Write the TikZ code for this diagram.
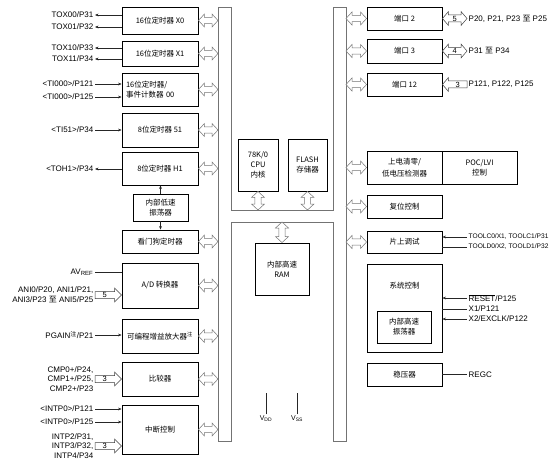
\documentclass[tikz,border=0pt]{standalone}
\usepackage{fontspec}
\setmainfont{Liberation Sans}
\newfontfamily\cjk{Noto Sans CJK SC}
\usetikzlibrary{arrows.meta,calc}

% hollow bus arrows (start, end)
\newcommand{\hbidi}[2]{%
  \draw[busarr] let \p1=(#1), \p2=(#2) in
    (\x1,\y1) -- ({\x1+6pt},{\y1+6.5pt}) -- ({\x1+6pt},{\y1+3.2pt})
    -- ({\x2-6pt},{\y1+3.2pt}) -- ({\x2-6pt},{\y1+6.5pt}) -- (\x2,\y1)
    -- ({\x2-6pt},{\y1-6.5pt}) -- ({\x2-6pt},{\y1-3.2pt})
    -- ({\x1+6pt},{\y1-3.2pt}) -- ({\x1+6pt},{\y1-6.5pt}) -- cycle;}
\newcommand{\vbidi}[2]{%
  \draw[busarr] let \p1=(#1), \p2=(#2) in
    (\x1,\y1) -- ({\x1+6.5pt},{\y1-6pt}) -- ({\x1+3.2pt},{\y1-6pt})
    -- ({\x1+3.2pt},{\y2+6pt}) -- ({\x1+6.5pt},{\y2+6pt}) -- (\x1,\y2)
    -- ({\x1-6.5pt},{\y2+6pt}) -- ({\x1-3.2pt},{\y2+6pt})
    -- ({\x1-3.2pt},{\y1-6pt}) -- ({\x1-6.5pt},{\y1-6pt}) -- cycle;}
% numbered pin-group arrows
\newcommand{\fatin}[3]{%
  \draw[fatarr] let \p1=(#1), \p2=(#2) in
    (\x1,{\y1+3.5pt}) -- ({\x2-7pt},{\y1+3.5pt}) -- ({\x2-7pt},{\y1+7pt})
    -- (\x2,\y1) -- ({\x2-7pt},{\y1-7pt}) -- ({\x2-7pt},{\y1-3.5pt})
    -- (\x1,{\y1-3.5pt}) -- cycle
    ({(\x1+\x2)/2-3.5pt},\y1) node[numlbl] {#3};}
\newcommand{\fatbi}[3]{%
  \draw[fatarr] let \p1=(#1), \p2=(#2) in
    (\x1,\y1) -- ({\x1+6pt},{\y1+7pt}) -- ({\x1+6pt},{\y1+3.5pt})
    -- ({\x2-6pt},{\y1+3.5pt}) -- ({\x2-6pt},{\y1+7pt}) -- (\x2,\y1)
    -- ({\x2-6pt},{\y1-7pt}) -- ({\x2-6pt},{\y1-3.5pt})
    -- ({\x1+6pt},{\y1-3.5pt}) -- ({\x1+6pt},{\y1-7pt}) -- cycle
    ({(\x1+\x2)/2},\y1) node[numlbl] {#3};}
\newcommand{\fatback}[3]{%
  \draw[fatarr] let \p1=(#1), \p2=(#2) in
    (\x1,\y1) -- ({\x1+6pt},{\y1+7pt}) -- ({\x1+6pt},{\y1+3.5pt})
    -- (\x2,{\y1+3.5pt}) -- (\x2,{\y1-3.5pt}) -- ({\x1+6pt},{\y1-3.5pt})
    -- ({\x1+6pt},{\y1-7pt}) -- cycle
    ({(\x1+\x2)/2+3pt},\y1) node[numlbl] {#3};}

\begin{document}
\begin{tikzpicture}[x=1pt, y=-1pt,
  blk/.style={draw, line width=0.9pt, inner sep=1pt, align=center,
              font=\cjk\fontsize{7.5}{10}\selectfont},
  lbl/.style={inner sep=0pt, align=center, font=\cjk\fontsize{7.5}{10}\selectfont},
  pin/.style={inner sep=1.5pt, font=\fontsize{8}{9.7}\selectfont},
  pinl/.style={pin, anchor=east, align=right},
  pinr/.style={pin, anchor=west, align=left},
  sig/.style={line width=0.5pt, black!85},
  busline/.style={draw=black!55, line width=0.6pt},
  busarr/.style={draw=black!55, line width=0.5pt, fill=white},
  fatarr/.style={draw=black!75, line width=0.5pt, fill=white},
  numlbl/.style={inner sep=0pt, font=\fontsize{7.5}{8}\selectfont},
  >={Stealth[length=3.5pt,width=2.8pt]}
]
  \useasboundingbox (0,0) rectangle (553,468);

  % H-shaped internal bus
  \draw[busline] (218,7) -- (231,7) -- (231,210) -- (333,210) -- (333,7)
    -- (346,7) -- (346,441) -- (333,441) -- (333,222) -- (231,222)
    -- (231,441) -- (218,441) -- cycle;
  \coordinate (busL) at (218,0);
  \coordinate (busR) at (346,0);
  \coordinate (busmid) at (0,210);
  \coordinate (buslow) at (0,222);

  % Left column: peripherals
  \node[blk, minimum width=76, minimum height=27] (x0) at (160,20.5) {16位定时器 X0};
  \node[blk, minimum width=76, minimum height=25] (x1) at (160,53.5) {16位定时器 X1};
  \node[blk, minimum height=33, text width=68, inner xsep=4, align=left]
    (tm00) at (160,89.5) {16位定时器/\\事件计数器 00};
  \node[blk, minimum width=76, minimum height=34] (tm51) at (160,130) {8位定时器 51};
  \node[blk, minimum width=76, minimum height=33] (h1) at (160,168.5) {8位定时器 H1};
  \node[blk, minimum width=55, minimum height=27] (losc) at (160.5,207.5) {内部低速\\振荡器};
  \node[blk, minimum width=76, minimum height=23] (wdt) at (160,241.5) {看门狗定时器};
  \node[blk, minimum width=76, minimum height=45] (adc) at (160,285.5) {A/D 转换器};
  \node[blk, minimum width=76, minimum height=34] (pga) at (160,336)
    {可编程增益放大器\textsuperscript{注}};
  \node[blk, minimum width=76, minimum height=34] (cmp) at (160,379) {比较器};
  \node[blk, minimum width=76, minimum height=49] (intc) at (160,429.5) {中断控制};

  % Centre: core and memories
  \node[blk, minimum width=40, minimum height=52] (cpu) at (258,165) {78K/0\\CPU\\内核};
  \node[blk, minimum width=39, minimum height=52] (flash) at (307.5,165) {FLASH\\存储器};
  \node[blk, minimum width=54, minimum height=52] (ram) at (282,269) {内部高速\\RAM};

  % Right column
  \node[blk, minimum width=75, minimum height=23] (p2) at (404.5,18.5) {端口 2};
  \node[blk, minimum width=75, minimum height=24] (p3) at (404.5,51) {端口 3};
  \node[blk, minimum width=75, minimum height=23] (p12) at (404.5,84.5) {端口 12};
  \node[blk, minimum width=75, minimum height=33] (lvd) at (404.5,167.5) {上电清零/\\[1.5pt]低电压检测器};
  \node[blk, minimum width=75, minimum height=33] (poc) at (479.5,167.5) {POC/LVI\\控制};
  \node[blk, minimum width=75, minimum height=23] (rst) at (404.5,206.5) {复位控制};
  \node[blk, minimum width=75, minimum height=22] (ocd) at (404.5,242) {片上调试};
  \node[blk, minimum width=75, minimum height=88] (sys) at (404.5,308) {};
  \node[lbl] (systxt) at (404.5,286) {系统控制};
  \node[blk, minimum width=54, minimum height=32] (hosc) at (404,327) {内部高速\\振荡器};
  \node[blk, minimum width=75, minimum height=23] (reg) at (404.5,374.5) {稳压器};

  % Bus arrows
  \foreach \b in {x0,x1,tm00,tm51,h1,wdt,adc,pga,cmp,intc}
    \hbidi{\b.east}{\b.east -| busL};
  \foreach \b in {p2,p3,p12,lvd,rst,ocd}
    \hbidi{busR |- \b.west}{\b.west};
  \vbidi{cpu.south}{cpu.south |- busmid};
  \vbidi{flash.south}{flash.south |- busmid};
  \vbidi{ram.north |- buslow}{ram.north};

  % Left pins
  \node[pinl] (tox00) at (95,15) {TOX00/P31};
  \node[pinl] (tox01) at (95,27) {TOX01/P32};
  \node[pinl] (tox10) at (95,48) {TOX10/P33};
  \node[pinl] (tox11) at (95,59) {TOX11/P34};
  \node[pinl] (ti121) at (95,84) {<TI000>/P121};
  \node[pinl] (ti125) at (95,97) {<TI000>/P125};
  \node[pinl] (ti51) at (95,130) {<TI51>/P34};
  \node[pinl] (toh1) at (95,169) {<TOH1>/P34};
  \node[pinl] (avref) at (95,272) {AV\textsubscript{REF}};
  \node[pinl] (ani) at (95,295) {ANI0/P20, ANI1/P21,\\ANI3/P23 {\cjk 至} ANI5/P25};
  \node[pinl] (pgain) at (95,335) {PGAIN\textsuperscript{\cjk 注}/P21};
  \node[pinl] (cmpin) at (95,379) {CMP0+/P24,\\CMP1+/P25,\\CMP2+/P23};
  \node[pinl] (intp121) at (95,409) {<INTP0>/P121};
  \node[pinl] (intp125) at (95,422) {<INTP0>/P125};
  \node[pinl] (intp) at (95,446) {INTP2/P31,\\INTP3/P32,\\INTP4/P34};

  \foreach \p/\b in {tox00/x0,tox01/x0,tox10/x1,tox11/x1,toh1/h1}
    \draw[sig,->] (\b.west |- \p.east) -- (\p.east);
  \foreach \p/\b in {ti121/tm00,ti125/tm00,ti51/tm51,pgain/pga,intp121/intc,intp125/intc}
    \draw[sig,->] (\p.east) -- (\b.west |- \p.east);
  \draw[sig] (avref.east) -- (adc.west |- avref.east);
  \fatin{ani.east}{adc.west |- ani.east}{5}
  \fatin{cmpin.east}{cmp.west |- cmpin.east}{3}
  \fatin{intp.east}{intc.west |- intp.east}{3}

  % Low-speed oscillator feeds
  \draw[sig,->] (losc.north) -- (losc.north |- h1.south);
  \draw[sig,->] (losc.south) -- (losc.south |- wdt.north);

  % Supply pins
  \node[pin, font=\fontsize{7}{8}\selectfont] (vdd) at (266,419) {V\textsubscript{DD}};
  \node[pin, font=\fontsize{7}{8}\selectfont] (vss) at (297,419) {V\textsubscript{SS}};
  \draw[sig] (vdd.north) -- (266,393);
  \draw[sig] (vss.north) -- (297,393);

  % Right pins
  \node[pinr] (p2pin) at (467,18.5) {P20, P21, P23 {\cjk 至} P25};
  \node[pinr] (p3pin) at (467,51) {P31 {\cjk 至} P34};
  \node[pinr] (p12pin) at (467,84.5) {P121, P122, P125};
  \fatbi{p2.east}{p2.east -| p2pin.west}{5}
  \fatbi{p3.east}{p3.east -| p3pin.west}{4}
  \fatback{p12.east}{p12.east -| p12pin.west}{3}

  \node[pinr, font=\fontsize{6.6}{8}\selectfont] (toolc) at (467,237) {TOOLC0/X1, TOOLC1/P31};
  \node[pinr, font=\fontsize{6.6}{8}\selectfont] (toold) at (467,247) {TOOLD0/X2, TOOLD1/P32};
  \node[pinr] (reset) at (467,298) {$\overline{\mbox{RESET}}$/P125};
  \node[pinr] (xone) at (467,309) {X1/P121};
  \node[pinr] (xtwo) at (467,319) {X2/EXCLK/P122};
  \node[pinr] (regc) at (467,374.5) {REGC};

  \draw[sig,->] (toolc.west) -- (ocd.east |- toolc.west);
  \draw[sig] (toold.west) -- (ocd.east |- toold.west);
  \draw[sig,->] (reset.west) -- (sys.east |- reset.west);
  \draw[sig] (xone.west) -- (sys.east |- xone.west);
  \draw[sig,->] (xtwo.west) -- (sys.east |- xtwo.west);
  \draw[sig] (reg.east) -- (regc.west);
\end{tikzpicture}
\end{document}
